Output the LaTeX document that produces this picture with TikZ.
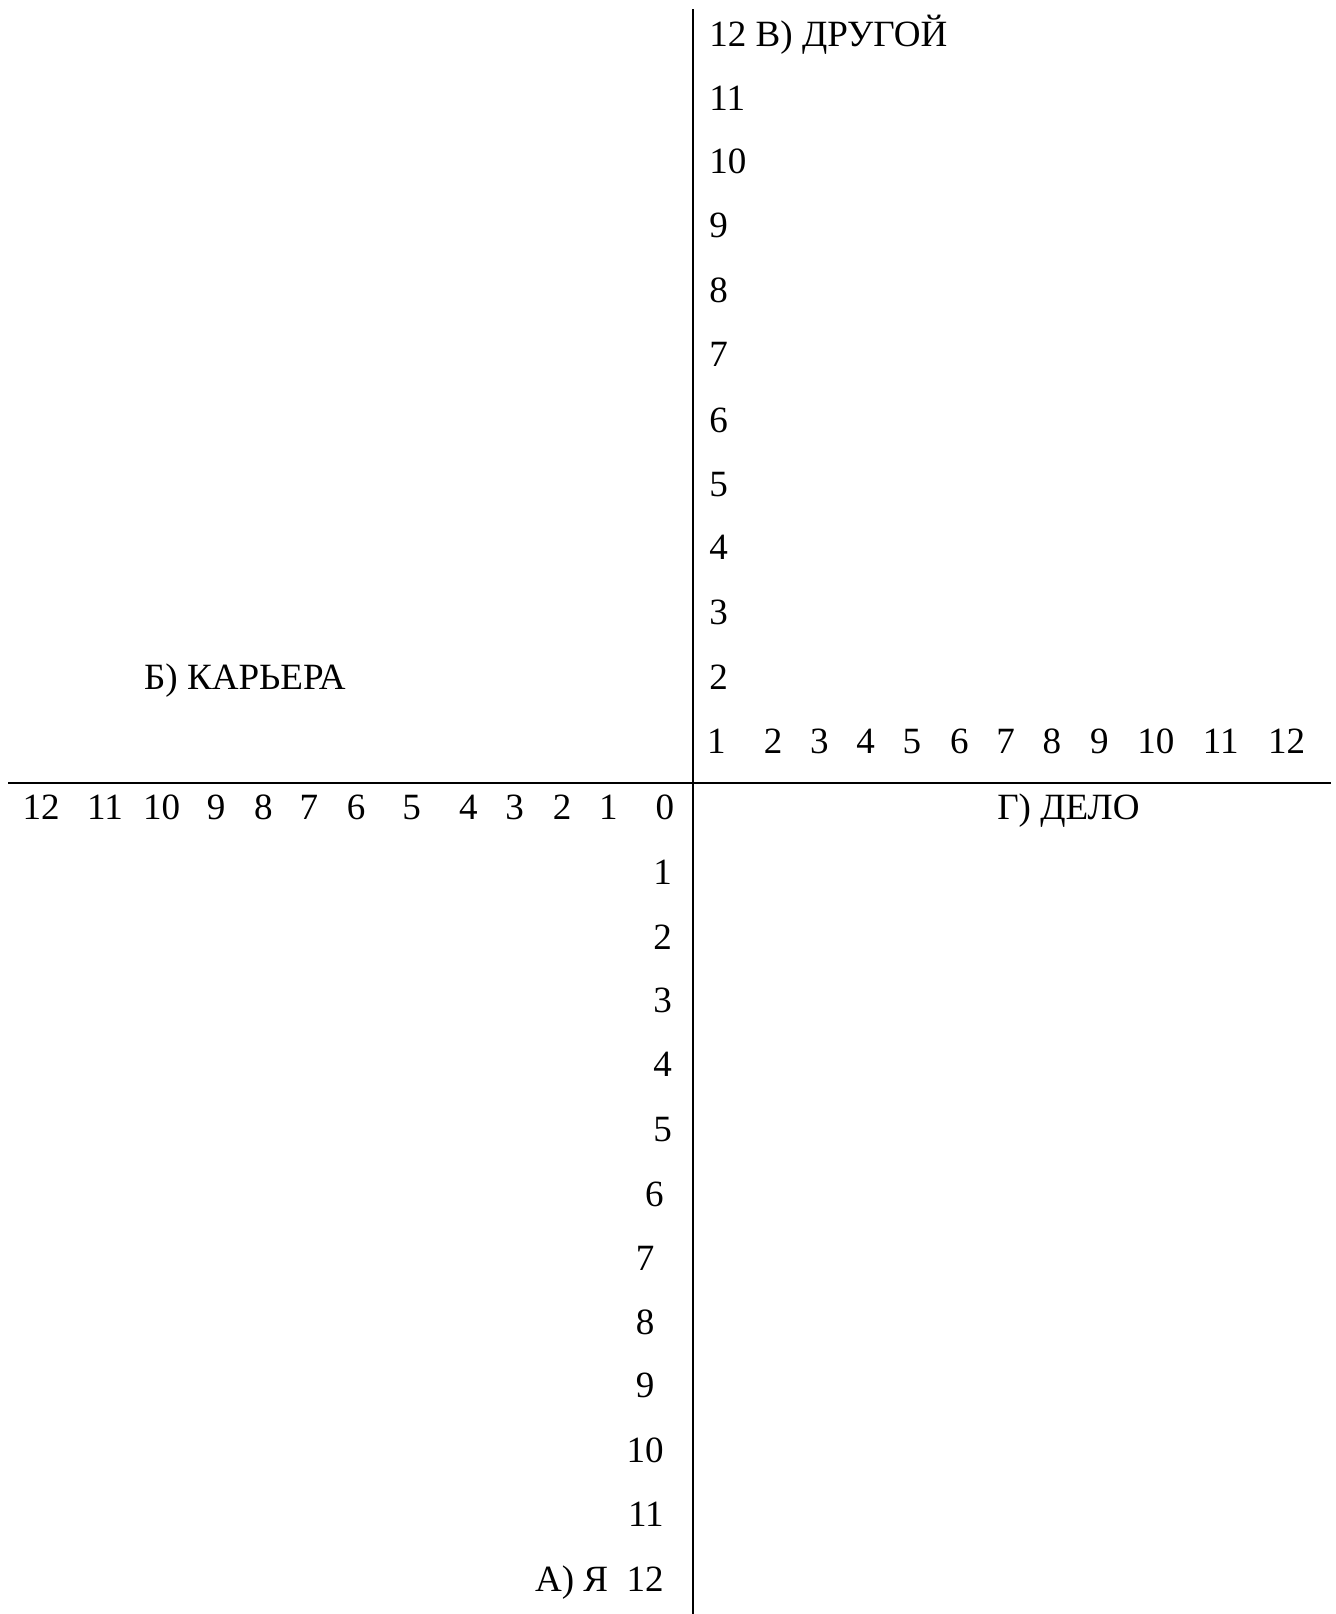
\documentclass[tikz,border=0pt]{standalone}
\usepackage{fontspec}
\setmainfont{Liberation Serif}
\begin{document}
\begin{tikzpicture}[
		x=1pt, y=-1pt,
		n/.style = {font=\fontsize{36}{43}\selectfont, inner sep=0, text height=24pt, text depth=0pt},
		ax/.style = {line width=2pt}
		]
		\useasboundingbox (0,0) rectangle (1297,1568);
		
		%Axis ends
		\coordinate (top)    at (673, 9);
		\coordinate (bottom) at (673, 1568);
		\coordinate (left)   at (8, 761);
		\coordinate (right)  at (1293, 761);
		
		%Titles
		\node[n, anchor=west]	(other)	at (689, 33)	{12 В) ДРУГОЙ};
		\node[n]	(career)	at (238, 658)	{Б) КАРЬЕРА};
		\node[n]	(work)	at (1038, 784)	{Г) ДЕЛО};
		\node[n, anchor=east]	(self)	at (645, 1534)	{А) Я\ \ 12};
		
		%Upper axis
		\node[n, anchor=west]	(u11)	at (689, 95)	{11};
		\node[n, anchor=west]	(u10)	at (689, 157)	{10};
		\node[n, anchor=west]	(u9)	at (689, 219)	{9};
		\node[n, anchor=west]	(u8)	at (689, 282)	{8};
		\node[n, anchor=west]	(u7)	at (689, 344)	{7};
		\node[n, anchor=west]	(u6)	at (689, 408)	{6};
		\node[n, anchor=west]	(u5)	at (689, 470)	{5};
		\node[n, anchor=west]	(u4)	at (689, 532)	{4};
		\node[n, anchor=west]	(u3)	at (689, 595)	{3};
		\node[n, anchor=west]	(u2)	at (689, 658)	{2};
		
		%Right axis
		\node[n]	(r1)	at (696, 720)	{1};
		\node[n]	(r2)	at (751, 720)	{2};
		\node[n]	(r3)	at (796, 720)	{3};
		\node[n]	(r4)	at (841, 720)	{4};
		\node[n]	(r5)	at (886, 720)	{5};
		\node[n]	(r6)	at (932, 720)	{6};
		\node[n]	(r7)	at (977, 720)	{7};
		\node[n]	(r8)	at (1022, 720)	{8};
		\node[n]	(r9)	at (1068, 720)	{9};
		\node[n]	(r10)	at (1123, 720)	{10};
		\node[n]	(r11)	at (1186, 720)	{11};
		\node[n]	(r12)	at (1250, 720)	{12};
		
		%Left axis
		\node[n]	(l12)	at (40, 784)	{12};
		\node[n]	(l11)	at (102, 784)	{11};
		\node[n]	(l10)	at (157, 784)	{10};
		\node[n]	(l9)	at (210, 784)	{9};
		\node[n]	(l8)	at (256, 784)	{8};
		\node[n]	(l7)	at (300, 784)	{7};
		\node[n]	(l6)	at (346, 784)	{6};
		\node[n]	(l5)	at (400, 784)	{5};
		\node[n]	(l4)	at (455, 784)	{4};
		\node[n]	(l3)	at (500, 784)	{3};
		\node[n]	(l2)	at (546, 784)	{2};
		\node[n]	(l1)	at (591, 784)	{1};
		\node[n]	(l0)	at (646, 784)	{0};
		
		%Lower axis
		\node[n, anchor=east]	(d1)	at (653, 847)	{1};
		\node[n, anchor=east]	(d2)	at (653, 910)	{2};
		\node[n, anchor=east]	(d3)	at (653, 972)	{3};
		\node[n, anchor=east]	(d4)	at (653, 1034)	{4};
		\node[n, anchor=east]	(d5)	at (653, 1097)	{5};
		\node[n, anchor=east]	(d6)	at (645, 1160)	{6};
		\node[n, anchor=east]	(d7)	at (636, 1222)	{7};
		\node[n, anchor=east]	(d8)	at (636, 1284)	{8};
		\node[n, anchor=east]	(d9)	at (636, 1346)	{9};
		\node[n, anchor=east]	(d10)	at (645, 1409)	{10};
		\node[n, anchor=east]	(d11)	at (645, 1471)	{11};
		
		%Lines
		\draw[ax] (top)  -- (bottom);
		\draw[ax] (left) -- (right);
		
	\end{tikzpicture}
\end{document}
